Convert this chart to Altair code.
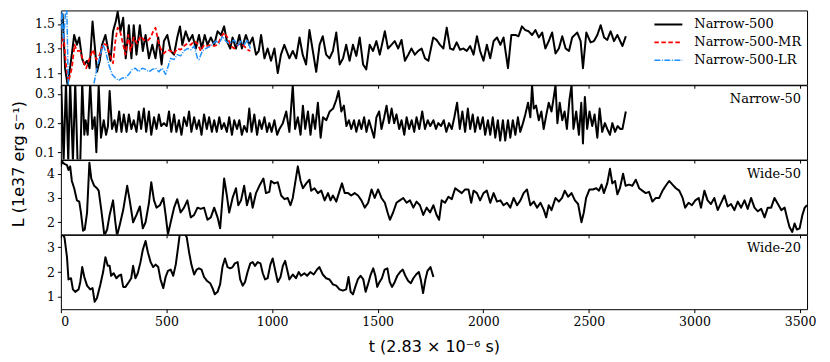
import altair as alt
import pandas as pd

# ---------------- data (t, L) ----------------
narrow500 = [(0,1.52),(8,1.58),(20,1.14),(32,1.00),(48,1.20),(63,1.41),(76,1.33),(87,1.39),(100,1.22),(111,1.17),(124,1.20),(136,1.14),(150,1.52),(160,1.33),(171,1.11),(184,1.20),(195,1.33),(211,1.41),(223,1.30),(235,1.20),(247,1.44),(260,1.52),(269,1.60),(282,1.44),(295,1.55),(307,1.22),(322,1.49),(334,1.22),(345,1.49),(358,1.25),(374,1.49),(388,1.28),(401,1.41),(417,1.22),(433,1.33),(448,1.22),(461,1.39),(477,1.17),(488,1.36),(504,1.41),(520,1.28),(536,1.25),(551,1.39),(564,1.48),(575,1.33),(591,1.44),(607,1.36),(623,1.41),(639,1.30),(654,1.41),(667,1.30),(681,1.41),(694,1.33),(710,1.39),(726,1.33),(742,1.44),(758,1.41),(773,1.48),(786,1.36),(802,1.30),(813,1.39),(829,1.30),(845,1.41),(857,1.30),(876,1.41),(892,1.33),(908,1.39),(924,1.25),(937,1.28),(948,1.41),(964,1.22),(979,1.30),(995,1.20),(1011,1.30),(1027,1.10),(1042,1.25),(1058,1.33),(1082,1.22),(1098,1.28),(1114,1.22),(1130,1.39),(1145,1.25),(1161,1.17),(1177,1.45),(1193,1.28),(1209,1.11),(1225,1.33),(1240,1.40),(1256,1.25),(1272,1.22),(1288,1.28),(1304,1.43),(1320,1.17),(1336,1.22),(1351,1.33),(1367,1.20),(1383,1.33),(1399,1.24),(1415,1.39),(1431,1.17),(1446,1.13),(1462,1.33),(1478,1.28),(1494,1.36),(1510,1.25),(1534,1.44),(1549,1.30),(1565,1.33),(1581,1.36),(1597,1.30),(1613,1.37),(1629,1.20),(1645,1.25),(1660,1.30),(1676,1.25),(1692,1.28),(1708,1.30),(1724,1.22),(1740,1.20),(1763,1.39),(1779,1.37),(1795,1.33),(1811,1.30),(1827,1.47),(1843,1.30),(1858,1.29),(1874,1.35),(1890,1.29),(1906,1.30),(1922,1.28),(1938,1.32),(1954,1.25),(1970,1.40),(1985,1.28),(2001,1.20),(2017,1.33),(2033,1.22),(2049,1.36),(2065,1.39),(2081,1.33),(2096,1.39),(2117,1.14),(2133,1.41),(2152,1.41),(2167,1.40),(2183,1.48),(2199,1.45),(2215,1.44),(2231,1.41),(2247,1.45),(2263,1.39),(2279,1.43),(2294,1.30),(2310,1.36),(2326,1.43),(2342,1.26),(2358,1.30),(2374,1.40),(2390,1.30),(2406,1.28),(2421,1.39),(2445,1.43),(2461,1.36),(2472,1.14),(2488,1.43),(2508,1.35),(2524,1.36),(2540,1.41),(2556,1.49),(2572,1.39),(2587,1.37),(2603,1.44),(2619,1.36),(2635,1.41),(2659,1.32),(2675,1.40)]

narrow500_mr = [(0,1.30),(13,1.41),(24,1.17),(36,1.03),(52,1.14),(65,1.33),(76,1.28),(92,1.28),(105,1.20),(120,1.14),(136,1.22),(152,1.29),(168,1.21),(184,1.25),(200,1.34),(216,1.33),(231,1.25),(247,1.18),(258,1.36),(269,1.47),(282,1.43),(295,1.33),(306,1.25),(319,1.41),(330,1.28),(345,1.39),(361,1.34),(377,1.40),(393,1.37),(409,1.36),(425,1.39),(437,1.44),(448,1.47),(461,1.36),(472,1.30),(488,1.26),(504,1.29),(520,1.28),(536,1.26),(551,1.30),(567,1.29),(583,1.32),(599,1.34),(615,1.33),(631,1.36),(647,1.34),(662,1.28),(678,1.33),(694,1.32),(710,1.33),(726,1.32),(742,1.33),(758,1.39),(773,1.43),(789,1.39),(805,1.32),(821,1.30),(837,1.33),(853,1.34),(868,1.32),(884,1.29),(897,1.28)]

narrow500_lr = [(0,1.45),(5,1.60),(13,1.36),(21,1.58),(28,1.62),(36,0.95),(60,0.90),(120,0.90),(155,1.00),(171,1.14),(187,1.25),(200,1.33),(211,1.28),(227,1.17),(242,1.09),(258,1.06),(274,1.04),(290,1.06),(306,1.06),(322,1.09),(338,1.13),(353,1.14),(369,1.11),(385,1.14),(401,1.13),(417,1.11),(433,1.13),(448,1.14),(464,1.11),(480,1.14),(496,1.09),(507,1.15),(520,1.22),(536,1.21),(551,1.25),(567,1.24),(583,1.28),(599,1.30),(615,1.29),(631,1.32),(647,1.22),(654,1.21),(670,1.28),(686,1.30),(710,1.32),(734,1.36),(750,1.34),(765,1.40),(781,1.36),(797,1.34),(821,1.37),(837,1.32),(853,1.36),(868,1.33),(884,1.37),(897,1.30)]

narrow50 = [(2,0.33),(13,0.07),(24,0.34),(35,0.07),(44,0.34),(57,0.07),(68,0.34),(79,0.07),(92,0.07),(101,0.34),(111,0.16),(117,0.21),(127,0.16),(139,0.34),(149,0.18),(160,0.22),(168,0.10),(179,0.33),(190,0.15),(203,0.21),(214,0.16),(223,0.19),(231,0.31),(242,0.18),(254,0.21),(263,0.17),(276,0.24),(287,0.17),(298,0.23),(311,0.17),(322,0.23),(334,0.18),(345,0.21),(358,0.17),(369,0.24),(380,0.18),(393,0.25),(404,0.17),(417,0.24),(428,0.16),(441,0.22),(453,0.18),(464,0.23),(475,0.19),(488,0.20),(501,0.19),(512,0.24),(523,0.17),(536,0.23),(547,0.17),(559,0.21),(571,0.16),(583,0.22),(596,0.19),(607,0.24),(618,0.17),(631,0.22),(643,0.18),(654,0.21),(666,0.16),(678,0.23),(691,0.18),(702,0.22),(715,0.17),(726,0.21),(738,0.17),(750,0.22),(761,0.18),(773,0.20),(786,0.17),(797,0.22),(810,0.16),(821,0.21),(834,0.18),(845,0.21),(857,0.16),(868,0.19),(881,0.17),(892,0.25),(903,0.17),(916,0.23),(929,0.16),(940,0.21),(951,0.18),(964,0.22),(976,0.17),(987,0.20),(998,0.17),(1011,0.21),(1024,0.16),(1035,0.18),(1051,0.20),(1067,0.24),(1082,0.17),(1098,0.33),(1109,0.18),(1122,0.22),(1135,0.16),(1146,0.26),(1157,0.18),(1170,0.24),(1182,0.16),(1193,0.23),(1204,0.18),(1217,0.27),(1230,0.15),(1241,0.22),(1257,0.21),(1273,0.24),(1289,0.25),(1304,0.28),(1315,0.31),(1328,0.24),(1340,0.26),(1352,0.19),(1364,0.21),(1375,0.18),(1388,0.21),(1399,0.17),(1412,0.21),(1423,0.18),(1436,0.22),(1447,0.17),(1459,0.21),(1471,0.18),(1483,0.15),(1494,0.22),(1507,0.24),(1518,0.18),(1531,0.22),(1542,0.26),(1554,0.20),(1566,0.25),(1578,0.20),(1589,0.23),(1602,0.18),(1613,0.21),(1626,0.16),(1637,0.22),(1649,0.18),(1661,0.21),(1673,0.17),(1684,0.22),(1697,0.18),(1711,0.24),(1724,0.18),(1737,0.21),(1749,0.19),(1764,0.21),(1776,0.18),(1787,0.20),(1800,0.19),(1813,0.21),(1825,0.17),(1838,0.20),(1851,0.18),(1863,0.22),(1876,0.27),(1889,0.18),(1901,0.24),(1914,0.17),(1927,0.25),(1938,0.18),(1950,0.23),(1961,0.17),(1974,0.22),(1985,0.18),(1998,0.22),(2009,0.16),(2022,0.21),(2033,0.16),(2045,0.22),(2057,0.15),(2069,0.21),(2080,0.14),(2093,0.21),(2104,0.14),(2117,0.21),(2128,0.15),(2140,0.21),(2152,0.16),(2164,0.22),(2175,0.17),(2188,0.20),(2199,0.23),(2212,0.27),(2223,0.22),(2231,0.33),(2239,0.25),(2250,0.26),(2263,0.21),(2275,0.24),(2286,0.18),(2299,0.23),(2310,0.27),(2323,0.24),(2334,0.29),(2342,0.33),(2351,0.20),(2362,0.27),(2374,0.21),(2385,0.24),(2396,0.18),(2408,0.28),(2418,0.33),(2427,0.18),(2440,0.24),(2453,0.16),(2464,0.27),(2472,0.13),(2481,0.29),(2492,0.18),(2503,0.24),(2516,0.19),(2527,0.23),(2540,0.15),(2551,0.25),(2563,0.17),(2576,0.20),(2587,0.18),(2600,0.16),(2611,0.20),(2624,0.17),(2636,0.19),(2649,0.18),(2659,0.18),(2675,0.24)]

wide50 = [(0,4.30),(5,4.50),(17,4.40),(29,4.35),(36,4.15),(44,4.30),(52,3.70),(63,3.40),(76,2.90),(87,2.85),(95,2.40),(105,1.65),(113,1.70),(124,2.40),(135,4.45),(144,3.80),(158,3.50),(171,3.40),(179,3.30),(190,2.60),(200,1.90),(206,1.45),(219,1.70),(231,2.30),(247,2.90),(258,2.00),(266,1.45),(279,1.90),(295,2.50),(314,3.50),(326,2.90),(342,2.00),(358,2.30),(374,2.65),(388,1.75),(401,2.00),(417,2.80),(428,3.65),(441,2.90),(453,2.60),(469,2.70),(485,3.00),(496,2.30),(507,1.50),(520,2.00),(536,2.60),(551,2.95),(567,2.40),(583,2.60),(599,2.90),(615,2.20),(631,2.30),(647,2.60),(662,2.55),(678,2.60),(694,2.10),(710,2.20),(726,2.60),(742,2.20),(754,1.75),(773,3.80),(786,3.10),(797,2.40),(813,3.00),(829,3.40),(840,2.70),(853,2.90),(868,3.50),(881,2.70),(897,3.20),(908,2.60),(924,3.20),(940,3.50),(959,3.80),(971,3.20),(987,3.25),(995,3.70),(1011,3.60),(1027,3.65),(1043,3.10),(1059,2.95),(1074,3.00),(1087,2.70),(1098,3.00),(1109,3.60),(1122,4.30),(1135,3.70),(1146,3.40),(1162,3.60),(1177,3.75),(1185,3.30),(1201,3.40),(1217,3.20),(1233,3.30),(1249,2.90),(1265,3.20),(1277,2.90),(1288,3.10),(1304,2.85),(1320,3.30),(1331,3.60),(1344,3.20),(1360,3.20),(1375,3.10),(1391,3.20),(1407,3.10),(1423,2.90),(1439,2.60),(1455,2.80),(1471,3.35),(1486,3.00),(1502,3.35),(1518,3.00),(1534,2.80),(1547,2.40),(1558,2.10),(1573,2.40),(1589,2.80),(1605,2.90),(1621,3.00),(1637,2.80),(1653,2.90),(1669,2.60),(1684,2.85),(1700,2.70),(1716,2.30),(1732,2.60),(1748,2.40),(1764,2.70),(1779,2.30),(1791,2.10),(1803,2.90),(1819,2.80),(1835,3.05),(1851,2.95),(1867,3.40),(1882,3.30),(1898,3.20),(1914,3.35),(1930,3.35),(1943,2.80),(1954,3.30),(1970,3.20),(1985,2.90),(2001,3.20),(2017,3.30),(2033,2.80),(2049,3.20),(2065,2.85),(2081,2.90),(2096,2.70),(2112,2.80),(2128,2.60),(2144,3.00),(2160,2.70),(2176,2.90),(2191,3.20),(2207,3.35),(2223,2.70),(2239,2.85),(2255,2.60),(2271,2.80),(2287,2.50),(2298,2.20),(2310,2.70),(2323,2.50),(2342,3.00),(2358,2.85),(2373,3.00),(2386,3.30),(2402,3.05),(2418,3.20),(2434,2.90),(2449,2.75),(2465,2.00),(2476,2.40),(2487,3.00),(2503,3.35),(2519,3.35),(2535,3.40),(2548,3.30),(2560,3.55),(2571,3.20),(2587,3.60),(2600,4.20),(2611,3.60),(2624,3.70),(2635,3.15),(2647,3.40),(2662,4.00),(2674,3.50),(2690,3.55),(2706,3.50),(2722,3.75),(2738,3.40),(2753,3.30),(2769,3.20),(2785,3.25),(2801,2.85),(2817,3.00),(2833,3.00),(2849,3.30),(2864,3.50),(2880,3.70),(2896,3.55),(2912,3.40),(2928,3.30),(2944,3.00),(2956,2.60),(2972,2.80),(2988,2.70),(3004,2.90),(3020,3.00),(3031,2.60),(3047,3.30),(3062,2.90),(3078,2.75),(3094,3.00),(3110,2.50),(3126,2.80),(3142,3.10),(3157,2.65),(3173,2.75),(3189,2.50),(3205,2.85),(3221,2.60),(3237,2.90),(3252,2.55),(3268,3.00),(3284,2.60),(3300,2.45),(3316,2.55),(3332,2.20),(3347,2.60),(3363,2.60),(3379,3.00),(3395,2.75),(3411,2.50),(3427,2.60),(3438,2.20),(3450,1.80),(3463,1.60),(3474,1.95),(3485,1.70),(3498,1.75),(3511,2.30),(3522,2.60),(3533,2.70)]

wide20 = [(0,3.60),(17,3.40),(29,2.60),(36,1.70),(48,1.75),(57,1.30),(68,1.20),(84,1.30),(92,1.60),(101,2.20),(111,1.80),(124,1.45),(139,1.30),(150,1.35),(160,0.80),(171,0.95),(187,1.50),(200,2.00),(211,2.60),(222,2.25),(231,2.25),(238,1.85),(250,1.95),(263,1.75),(274,1.85),(285,1.90),(295,1.40),(306,1.40),(322,1.60),(333,1.75),(342,2.25),(353,1.75),(364,1.95),(377,2.40),(388,2.90),(401,3.25),(412,2.80),(425,2.40),(437,2.20),(448,2.30),(461,2.20),(472,1.70),(485,1.35),(496,1.80),(507,2.05),(520,2.10),(532,1.85),(544,2.30),(555,3.00),(564,3.60),(583,3.60),(596,3.40),(607,2.80),(618,2.30),(631,1.90),(643,2.10),(654,2.15),(666,2.10),(678,1.80),(691,1.65),(707,1.55),(718,1.35),(729,1.10),(742,1.20),(754,1.50),(765,2.20),(777,2.55),(789,2.20),(802,2.15),(813,2.20),(824,2.35),(837,2.40),(849,1.70),(861,1.45),(872,1.60),(884,2.00),(897,2.35),(908,2.40),(919,2.25),(932,2.40),(945,2.35),(956,1.95),(967,1.70),(979,1.75),(992,2.30),(1003,2.55),(1014,2.10),(1027,1.60),(1040,1.80),(1051,2.25),(1062,2.45),(1074,2.00),(1082,1.70),(1098,1.90),(1113,1.75),(1126,2.00),(1137,1.85),(1153,1.95),(1166,1.85),(1181,2.00),(1197,1.90),(1213,2.10),(1224,2.20),(1240,1.90),(1256,1.75),(1272,1.70),(1288,1.50),(1304,1.45),(1319,1.30),(1335,1.25),(1351,1.30),(1362,1.80),(1372,1.20),(1383,1.10),(1394,1.40),(1406,1.70),(1419,1.85),(1432,1.70),(1443,1.20),(1454,1.50),(1467,1.90),(1479,2.15),(1489,1.85),(1498,1.40),(1509,1.60),(1520,1.75),(1533,2.10),(1546,2.15),(1557,1.60),(1568,1.40),(1581,1.60),(1593,1.85),(1606,2.00),(1619,2.10),(1631,1.85),(1644,1.65),(1657,1.55),(1669,1.75),(1682,1.90),(1695,2.00),(1704,1.70),(1715,1.15),(1726,1.70),(1736,2.05),(1750,2.20),(1764,1.80)]

series_names = ["Narrow-500", "Narrow-500-MR", "Narrow-500-LR"]
series_colors = ["#000000", "#ff0000", "#1e90ff"]
series_dash = [[1, 0], [4.5, 2.5], [6, 1.5, 1, 1.5]]
series_width = [2.0, 1.5, 0.9]
panel_labels = ["Narrow-50", "Wide-50", "Wide-20"]
x_ticks = [0, 500, 1000, 1500, 2000, 2500, 3000, 3500]
x_domain = [0, 3533]

W, H = 748, 74.5
SERIF = "DejaVu Serif"
SANS = "DejaVu Sans"


def frame(pairs, name):
    return pd.DataFrame({"t": [p[0] for p in pairs],
                         "L": [p[1] for p in pairs],
                         "series": name})


def x_enc(bottom=False):
    if bottom:
        axis = alt.Axis(values=x_ticks, format="d", title="t (2.83 × 10⁻⁶ s)",
                        labelFont=SERIF, labelFontSize=12.5, labelPadding=3,
                        tickSize=3.5, titleFont=SANS, titleFontSize=16,
                        titleFontWeight="normal", titlePadding=10,
                        grid=False, domain=False)
        return alt.X("t:Q", scale=alt.Scale(domain=x_domain, nice=False, zero=False), axis=axis)
    axis = alt.Axis(values=x_ticks, labels=False, tickSize=3.5, grid=False, domain=False)
    return alt.X("t:Q", scale=alt.Scale(domain=x_domain, nice=False, zero=False), axis=axis, title=None)


def y_enc(domain, ticks, fmt, with_title=False):
    kw = dict(values=ticks, format=fmt, labelFont=SERIF, labelFontSize=12.5,
              labelPadding=3, tickSize=3.5, grid=False, domain=False)
    if with_title:
        axis = alt.Axis(title="L (1e37 erg s⁻¹)", titleFont=SANS, titleFontSize=16,
                        titleFontWeight="normal", titleY=78.5, titlePadding=8, **kw)
        return alt.Y("L:Q", scale=alt.Scale(domain=domain, nice=False, zero=False), axis=axis)
    axis = alt.Axis(**kw)
    return alt.Y("L:Q", scale=alt.Scale(domain=domain, nice=False, zero=False), axis=axis, title=None)


legend = alt.Legend(title=None, orient="none", legendX=598, legendY=3,
                    symbolType="M-1.4,0L1.4,0", symbolSize=400, labelFont=SERIF,
                    labelFontSize=13, labelColor="black", labelOffset=15,
                    rowPadding=0)


def series_layer(pairs, name, ydom, yticks):
    return alt.Chart(frame(pairs, name)).mark_line(clip=True, strokeJoin="round").encode(
        x=x_enc(),
        y=y_enc(ydom, yticks, ".1f"),
        color=alt.Color("series:N", scale=alt.Scale(domain=series_names, range=series_colors), legend=legend),
        strokeDash=alt.StrokeDash("series:N", scale=alt.Scale(domain=series_names, range=series_dash), legend=legend),
        strokeWidth=alt.StrokeWidth("series:N", scale=alt.Scale(domain=series_names, range=series_width), legend=legend),
    )


def label_layer(text):
    return alt.Chart(pd.DataFrame({"label": [text]})).mark_text(
        align="right", baseline="middle", font=SERIF, fontSize=13, color="black"
    ).encode(text="label:N", x=alt.value(W - 6), y=alt.value(13.5))


def black_line(pairs, name, ydom, yticks, fmt, bottom=False, with_title=False):
    return alt.Chart(frame(pairs, name)).mark_line(
        clip=True, color="black", strokeWidth=2, strokeJoin="round"
    ).encode(x=x_enc(bottom), y=y_enc(ydom, yticks, fmt, with_title))


d1 = [1.005, 1.61]
p1 = alt.layer(
    series_layer(narrow500, series_names[0], d1, [1.1, 1.3, 1.5]),
    series_layer(narrow500_mr, series_names[1], d1, [1.1, 1.3, 1.5]),
    series_layer(narrow500_lr, series_names[2], d1, [1.1, 1.3, 1.5]),
).properties(width=W, height=H)

p2 = alt.layer(
    black_line(narrow50, "Narrow-50", [0.075, 0.33], [0.1, 0.2, 0.3], ".1f", with_title=True),
    label_layer(panel_labels[0]),
).properties(width=W, height=H)

p3 = alt.layer(
    black_line(wide50, "Wide-50", [1.5, 4.56], [2, 3, 4], "d"),
    label_layer(panel_labels[1]),
).properties(width=W, height=H)

p4 = alt.layer(
    black_line(wide20, "Wide-20", [0.5, 3.5], [1, 2, 3], "d", bottom=True),
    label_layer(panel_labels[2]),
).properties(width=W, height=H)

chart = alt.vconcat(p1, p2, p3, p4, spacing=0, bounds="flush").properties(
    padding={"left": 2, "top": 1, "right": 5, "bottom": 5}
).configure_view(stroke="black", strokeWidth=1).configure_axis(
    tickColor="black", labelColor="black", titleColor="black", tickWidth=1
)

chart.save("out.html", embed_options={"renderer": "svg", "actions": False})
